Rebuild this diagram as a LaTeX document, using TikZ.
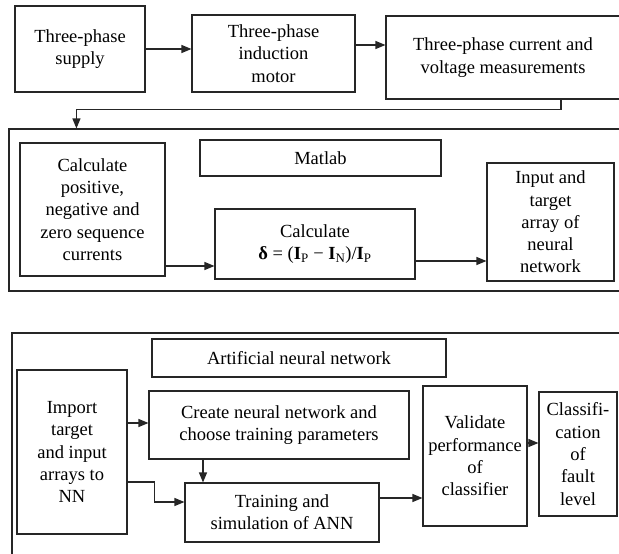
\documentclass[tikz,border=0pt]{standalone}
\usepackage{fontspec}
\setmainfont{Liberation Serif}
\usetikzlibrary{arrows.meta,calc}
\begin{document}
\begin{tikzpicture}[x=1pt,y=-1pt,
  box/.style={draw=black!85, line width=1.1pt, align=center, inner sep=0pt,
    font=\fontsize{18.5}{22.3}\selectfont},
  frame/.style={draw=black!85, line width=1.1pt, inner sep=0pt},
  arr/.style={draw=black!85, line width=1.1pt, -{Triangle[length=10pt,width=8pt]}}]
\useasboundingbox (0,0) rectangle (619,554);
\clip (0,0) rectangle (619,554);
% top row
\node[box, minimum width=130pt, minimum height=86pt] (supply) at (80,49) {Three-phase\\supply};
\node[box, minimum width=163pt, minimum height=77pt] (motor) at (273.5,53.5) {Three-phase\\induction\\motor};
\node[box, minimum width=234pt, minimum height=83pt] (meas) at (503,57.5) {Three-phase current and\\voltage measurements};
% Matlab frame
\node[frame, minimum width=640pt, minimum height=162pt] (mframe) at (329,210) {};
\node[box, minimum width=241pt, minimum height=36pt] (matlab) at (320.5,158) {Matlab};
\node[box, minimum width=145pt, minimum height=133pt] (calc) at (92.5,209.5) {Calculate\\positive,\\negative and\\zero sequence\\currents};
\node[box, minimum width=200pt, minimum height=70pt] (delta) at (315,244) {Calculate\\\textbf{δ} = (\textbf{I}\textsubscript{P} − \textbf{I}\textsubscript{N})/\textbf{I}\textsubscript{P}};
\node[box, minimum width=127pt, minimum height=118pt] (input) at (550.5,222) {Input and\\target\\array of\\neural\\network};
% ANN frame
\node[frame, minimum width=640pt, minimum height=260pt] (aframe) at (332,463) {};
\node[box, minimum width=294pt, minimum height=38pt] (annlabel) at (299,358) {Artificial neural network};
\node[box, minimum width=110pt, minimum height=164pt] (import) at (72,452) {Import\\target\\and input\\arrays to\\NN};
\node[box, minimum width=260pt, minimum height=68pt] (create) at (279,425) {Create neural network and\\choose training parameters};
\node[box, minimum width=194pt, minimum height=59pt] (train) at (282,512.5) {Training and\\simulation of ANN};
\node[box, minimum width=104pt, minimum height=140pt] (validate) at (475,456) {Validate\\performance\\of\\classifier};
\node[box, minimum width=78pt, minimum height=124pt] (classif) at (578,454) {Classifi-\\cation\\of\\fault\\level};
% connectors top
\draw[arr] (supply.east) -- (supply.east -| motor.west);
\draw[arr] ([yshift=8.5pt]motor.east) -- ([yshift=8.5pt]motor.east -| meas.west);
\draw[arr] ([xshift=58pt]meas.south) -- ++(0,10) -| ([xshift=68pt]mframe.north west);
% Matlab connectors
\draw[arr] ([yshift=-56.5pt]calc.east) -- ([yshift=-56.5pt]calc.east -| delta.west);
\draw[arr] ([yshift=-17pt]delta.east) -- ([yshift=-17pt]delta.east -| input.west);
% ANN connectors
\draw[arr] ([yshift=29pt]import.east) -- ([yshift=29pt]import.east -| create.west);
\draw[arr] ([xshift=-76pt]create.south) -- ([xshift=-76pt]create.south |- train.north);
\draw[arr] ([yshift=-30pt]import.east) -- ++(27,0) |- ([yshift=10.5pt]train.west);
\draw[arr] ([yshift=14.5pt]train.east) -- ([yshift=14.5pt]train.east -| validate.west);
\draw[arr] ([yshift=13pt]validate.east) -- ([yshift=13pt]validate.east -| classif.west);
\end{tikzpicture}
\end{document}
